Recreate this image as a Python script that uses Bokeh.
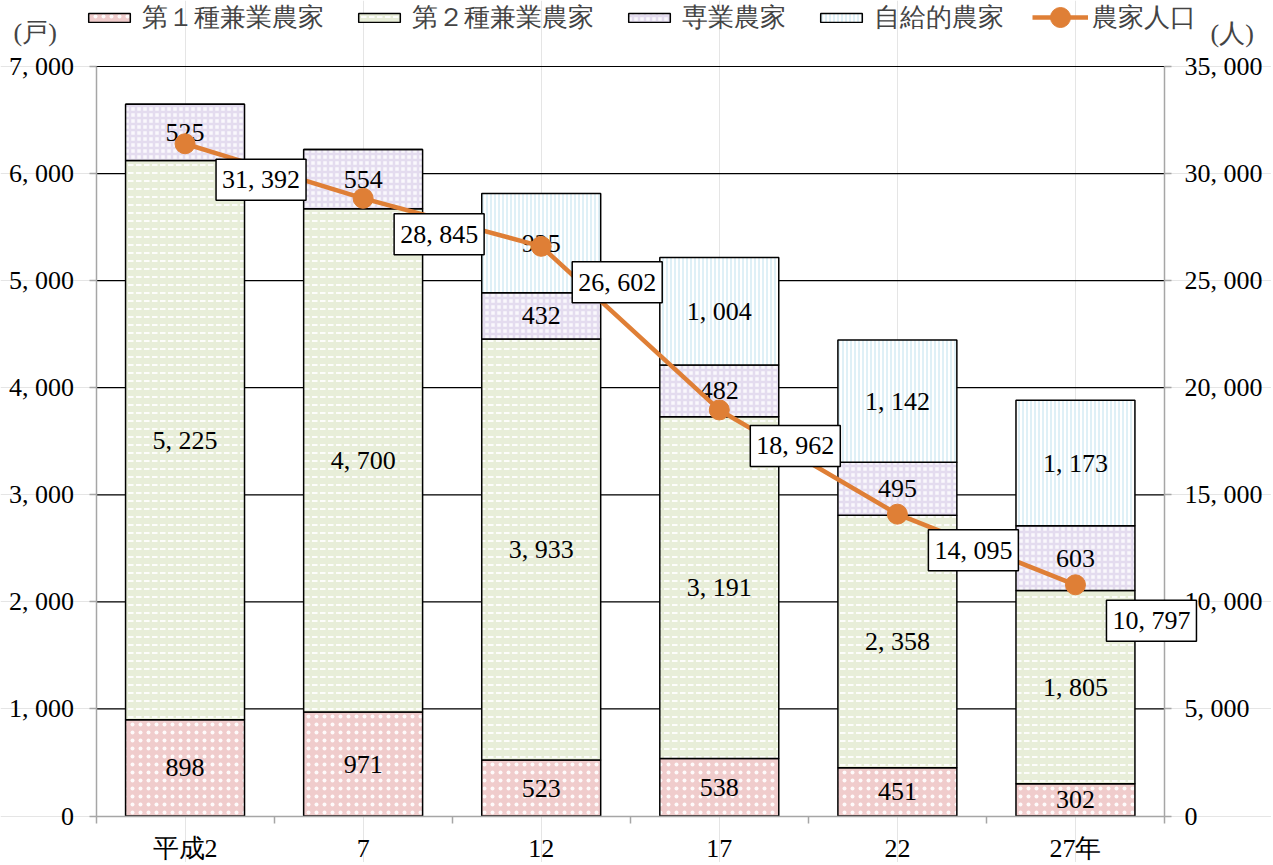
from bokeh.plotting import figure
from bokeh.models import (ColumnDataSource, Range1d, LinearAxis, FixedTicker,
                          Legend, LegendItem, Label)
from bokeh.core.properties import value
from bokeh.embed import file_html
from bokeh.resources import INLINE

# ---------------- data ----------------
categories = ["平成2", "7", "12", "17", "22", "27年"]
dai1 = [898, 971, 523, 538, 451, 302]          # 第１種兼業農家
dai2 = [5225, 4700, 3933, 3191, 2358, 1805]    # 第２種兼業農家
sengyo = [525, 554, 432, 482, 495, 603]        # 専業農家
jikyu = [0, 0, 925, 1004, 1142, 1173]          # 自給的農家
population = [31392, 28845, 26602, 18962, 14095, 10797]  # 農家人口
series_names = ["第１種兼業農家", "第２種兼業農家", "専業農家", "自給的農家"]
line_name = "農家人口"
left_ticks = [0, 1000, 2000, 3000, 4000, 5000, 6000, 7000]
right_ticks = [0, 5000, 10000, 15000, 20000, 25000, 30000, 35000]
unit_left = "(戸)"
unit_right = "(人)"

FONT = "Liberation Serif"
FS = "26px"

# ---------------- layout (pixels) ----------------
W, H = 1271, 862                 # canvas == frame
PX_L, PX_R = 95.5, 1164          # category area left / right edge
PX_T, PX_B = 66, 815.5           # 7,000 line / zero line
L_MAX, R_MAX = left_ticks[-1], right_ticks[-1]
n = len(categories)
ux = (PX_R - PX_L) / n
uy = (PX_B - PX_T) / L_MAX
x_range = Range1d(-0.5 - PX_L / ux, n - 0.5 + (W - PX_R) / ux)
y_range = Range1d(-(H - PX_B) / uy, L_MAX + PX_T / uy)
k = R_MAX / L_MAX
pop_range = Range1d(y_range.start * k, y_range.end * k)


def fmt(v):
    return f"{v:,}".replace(",", ", ")


xs = list(range(n))

p = figure(frame_width=W, frame_height=H, min_border=0,
           x_range=x_range, y_range=y_range,
           x_axis_location=None, y_axis_location=None, title_location=None,
           output_backend="svg", toolbar_location=None,
           outline_line_color=None, background_fill_color="white",
           border_fill_color="white")
p.extra_y_ranges = {"pop": pop_range}

# ---------------- horizontal grid lines ----------------
gt = left_ticks[1:]
p.segment(x0=[-0.5] * len(gt), x1=[n - 0.5] * len(gt), y0=gt, y1=gt,
          line_color="black", line_width=1.2)

# ---------------- stacked bars ----------------
series = [dai1, dai2, sengyo, jikyu]
styles = [
    dict(fill_color="#f0cccc", hatch_pattern="dot", hatch_color="white",
         hatch_scale=8, hatch_weight=4, hatch_alpha=0.9),
    dict(fill_color="#e8eed9", hatch_pattern="horizontal_dash", hatch_color="white",
         hatch_scale=8, hatch_weight=2, hatch_alpha=0.9),
    dict(fill_color="#faf8fc", hatch_pattern="cross", hatch_color="#e4dcef",
         hatch_scale=6, hatch_weight=2.5),
    dict(fill_color="white", hatch_pattern="vertical_line", hatch_color="#bfe1ee",
         hatch_scale=4, hatch_weight=1),
]

bottom = [0] * n
bar_renderers = []
lab_x, lab_y, lab_t = [], [], []
for vals, st in zip(series, styles):
    top = [b + v for b, v in zip(bottom, vals)]
    src = ColumnDataSource(dict(x=xs, bottom=bottom, top=top))
    r = p.vbar(x="x", bottom="bottom", top="top", width=0.668, source=src,
               line_color="black", line_width=1.5, **st)
    bar_renderers.append(r)
    for xi, b, t, v in zip(xs, bottom, top, vals):
        if v > 0:
            lab_x.append(xi)
            lab_y.append((b + t) / 2)
            lab_t.append(fmt(v))
    bottom = top

p.text(x="x", y="y", text="t",
       source=ColumnDataSource(dict(x=lab_x, y=lab_y, t=lab_t)),
       text_align="center", text_baseline="middle",
       text_font=value(FONT), text_font_size=FS, text_color="black")

# ---------------- population line ----------------
ORANGE = "#df7f36"
lsrc = ColumnDataSource(dict(x=xs, y=population))
lr = p.line(x="x", y="y", source=lsrc, y_range_name="pop",
            line_color=ORANGE, line_width=4.5)
sr = p.scatter(x="x", y="y", source=lsrc, y_range_name="pop", size=20,
               fill_color=ORANGE, line_color=ORANGE)

for xi, v in zip(xs, population):
    p.add_layout(Label(x=xi, y=v, y_range_name="pop", x_offset=76, y_offset=-36,
                       text=fmt(v), text_align="center", text_baseline="middle",
                       text_font=FONT, text_font_size=FS, text_color="black",
                       background_fill_color="white", border_line_color="black",
                       border_line_width=1.5, padding=6, level="overlay"))

# ---------------- axes (fixed inside the full-canvas frame) ----------------
GREY = "#a6a6a6"
yax = LinearAxis(fixed_location=-0.5, bounds=(0, L_MAX),
                 ticker=FixedTicker(ticks=left_ticks),
                 major_label_overrides={t: fmt(t) for t in left_ticks},
                 major_label_standoff=15)
p.add_layout(yax, "left")
rax = LinearAxis(fixed_location=n - 0.5, y_range_name="pop", bounds=(0, R_MAX),
                 ticker=FixedTicker(ticks=right_ticks),
                 major_label_overrides={t: fmt(t) for t in right_ticks},
                 major_label_standoff=13)
p.add_layout(rax, "right")

for ax in (yax, rax):
    ax.axis_line_color = GREY
    ax.axis_line_width = 1.5
    ax.major_tick_line_color = GREY
    ax.major_tick_line_width = 1.5
    ax.major_tick_out = 7
    ax.major_tick_in = 0
    ax.minor_tick_line_color = None
    ax.major_label_text_font = FONT
    ax.major_label_text_font_size = FS
    ax.major_label_text_color = "black"

xax = LinearAxis(fixed_location=0, bounds=(-0.5, n - 0.5),
                 ticker=FixedTicker(ticks=xs,
                                    minor_ticks=[x - 0.5 for x in xs] + [xs[-1] + 0.5]),
                 major_label_overrides={x: c for x, c in zip(xs, categories)})
p.add_layout(xax, "below")
xax.axis_line_color = GREY
xax.axis_line_width = 1.5
xax.major_tick_line_color = None
xax.minor_tick_line_color = GREY
xax.minor_tick_line_width = 1.5
xax.minor_tick_out = 7
xax.minor_tick_in = 0
xax.major_label_text_font = FONT
xax.major_label_text_font_size = FS
xax.major_label_text_color = "black"
xax.major_label_standoff = 11

# ---------------- legends ----------------
bar_items = [LegendItem(label=nm, renderers=[r]) for nm, r in zip(series_names, bar_renderers)]
legend = Legend(items=bar_items, orientation="horizontal", location=(83, H - 35),
                label_text_font=FONT, label_text_font_size=FS,
                glyph_width=52, glyph_height=11, label_standoff=7, spacing=29,
                padding=0, margin=0, border_line_color=None,
                background_fill_alpha=0)
p.add_layout(legend)

line_legend = Legend(items=[LegendItem(label=line_name, renderers=[lr, sr])],
                     orientation="horizontal", location=(1032, H - 42),
                     label_text_font=FONT, label_text_font_size=FS,
                     glyph_width=56, glyph_height=50, label_standoff=4,
                     padding=0, margin=0, border_line_color=None,
                     background_fill_alpha=0)
p.add_layout(line_legend)

# ---------------- unit labels ----------------
p.add_layout(Label(x=13, y=H - 32, x_units="screen", y_units="screen", text=unit_left,
                   text_font=FONT, text_font_size=FS, text_baseline="middle"))
p.add_layout(Label(x=1210, y=H - 33, x_units="screen", y_units="screen", text=unit_right,
                   text_font=FONT, text_font_size=FS, text_baseline="middle"))

open("out.html", "w").write(file_html(p, INLINE))
